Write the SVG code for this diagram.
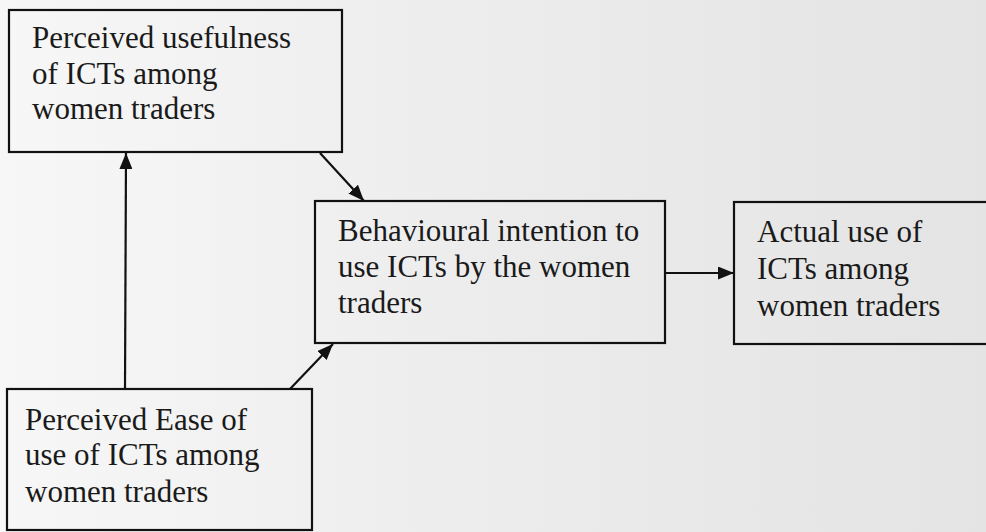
<svg xmlns="http://www.w3.org/2000/svg" width="986" height="532" viewBox="0 0 986 532">
<defs>
<linearGradient id="bg" x1="0" y1="0" x2="1" y2="0">
<stop offset="0" stop-color="#f7f7f7"/>
<stop offset="0.5" stop-color="#ececec"/>
<stop offset="1" stop-color="#e4e4e4"/>
</linearGradient>
<marker id="ah" viewBox="0 0 16 13" refX="16" refY="6.5" markerWidth="16" markerHeight="13" markerUnits="userSpaceOnUse" orient="auto">
<path d="M0,0 L16,6.5 L0,13 Z" fill="#111"/>
</marker>
<style>
.box{fill:none;stroke:#111;stroke-width:2.2}
.t{font-family:"Liberation Serif","Times New Roman",serif;font-size:31px;fill:#1a1a1a}
.c{stroke:#111;stroke-width:2.2;fill:none}
</style>
</defs>
<rect width="986" height="532" fill="url(#bg)"/>
<g id="connectors">
<line class="c" x1="125" y1="389" x2="126" y2="153" marker-end="url(#ah)"/>
<line class="c" x1="320" y1="153" x2="364" y2="201" marker-end="url(#ah)"/>
<line class="c" x1="290" y1="389" x2="333" y2="344" marker-end="url(#ah)"/>
<line class="c" x1="665" y1="273" x2="734" y2="273" marker-end="url(#ah)"/>
</g>
<g id="node-usefulness">
<rect class="box" x="9" y="10" width="333" height="142"/>
<text class="t" x="32" y="48">Perceived usefulness</text>
<text class="t" x="32" y="84">of ICTs among</text>
<text class="t" x="32" y="119">women traders</text>
</g>
<g id="node-intention">
<rect class="box" x="315" y="201" width="350" height="142"/>
<text class="t" x="338" y="241">Behavioural intention to</text>
<text class="t" x="338" y="277">use ICTs by the women</text>
<text class="t" x="338" y="313">traders</text>
</g>
<g id="node-actual">
<rect class="box" x="734" y="202" width="270" height="142"/>
<text class="t" x="757" y="242">Actual use of</text>
<text class="t" x="757" y="279">ICTs among</text>
<text class="t" x="757" y="316">women traders</text>
</g>
<g id="node-ease">
<rect class="box" x="7" y="389" width="305" height="141"/>
<text class="t" x="25" y="430">Perceived Ease of</text>
<text class="t" x="25" y="465">use of ICTs among</text>
<text class="t" x="25" y="502">women traders</text>
</g>
</svg>
